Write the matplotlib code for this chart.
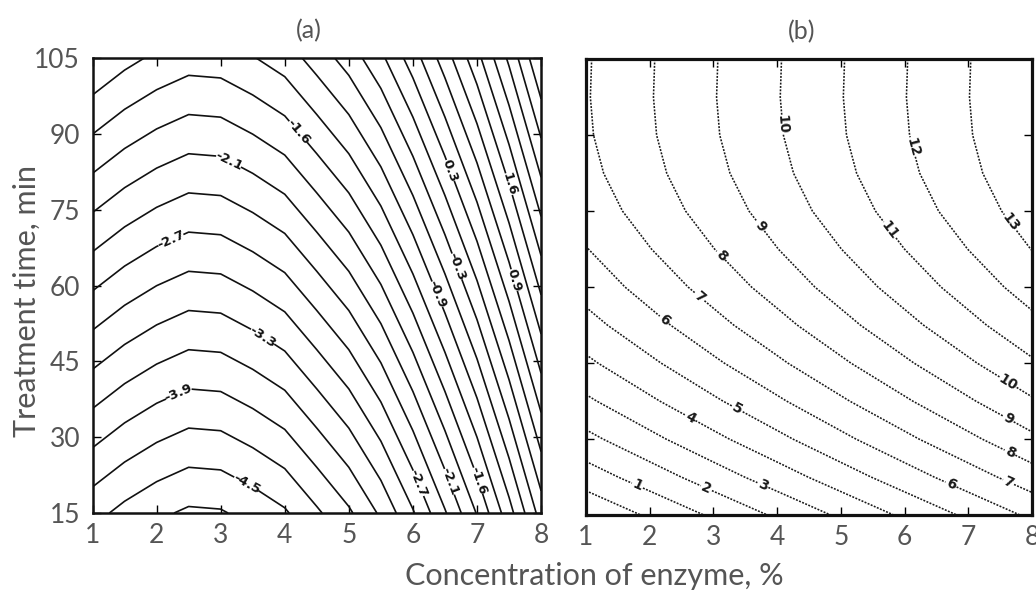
import numpy as np
import matplotlib
matplotlib.use("Agg")
import matplotlib.pyplot as plt

# ---------------- data ----------------
# Panel (a): response surface values
conc_a = [1.0, 1.5, 2.0, 2.5, 3.0, 3.5, 4.0, 4.5, 5.0, 5.5, 6.0, 6.5, 7.0, 7.5, 8.0]
time_a = [15, 30, 45, 60, 75, 90, 105]
z_a = [
    [-4.40, -4.59, -4.74, -4.85, -4.83, -4.70, -4.54, -4.25, -3.95, -3.55, -3.03, -2.43, -1.78, -1.02, -0.17],
    [-3.82, -4.01, -4.16, -4.27, -4.25, -4.12, -3.96, -3.67, -3.37, -2.97, -2.45, -1.85, -1.20, -0.44, 0.41],
    [-3.24, -3.43, -3.58, -3.69, -3.67, -3.54, -3.38, -3.09, -2.79, -2.39, -1.87, -1.27, -0.62, 0.14, 0.99],
    [-2.66, -2.85, -3.00, -3.11, -3.09, -2.96, -2.80, -2.51, -2.21, -1.81, -1.29, -0.69, -0.04, 0.72, 1.57],
    [-2.08, -2.27, -2.42, -2.53, -2.51, -2.38, -2.22, -1.93, -1.63, -1.23, -0.71, -0.11, 0.54, 1.30, 2.15],
    [-1.50, -1.69, -1.84, -1.95, -1.93, -1.80, -1.64, -1.35, -1.05, -0.65, -0.13, 0.47, 1.12, 1.88, 2.73],
    [-0.92, -1.11, -1.26, -1.37, -1.35, -1.22, -1.06, -0.77, -0.47, -0.07, 0.45, 1.05, 1.70, 2.46, 3.31],
]
plain_levels_a = [-4.8, -4.2, -3.6, -3.0, -2.4, -1.8, -1.2, -0.6, 0.0, 0.6, 1.2, 1.8, 2.1, 2.4, 2.7, 3.0, 3.3]
label_levels_a = [-4.5, -3.9, -3.3, -2.7, -2.1, -1.5, -0.9, -0.3, 0.3, 0.9, 1.5]
label_text_a = ["-4.5", "-3.9", "-3.3", "-2.7", "-2.1", "-1.6", "-0.9", "-0.3", "0.3", "0.9", "1.6"]

# Panel (b)
conc_b = [1, 2, 3, 4, 5, 6, 7, 8]
time_b = [15, 22.5, 30, 37.5, 45, 52.5, 60, 67.5, 75, 82.5, 90, 97.5, 105]
z_b = [
    [-0.87, 0.14, 1.15, 2.15, 3.16, 4.17, 5.18, 6.19],
    [0.49, 1.50, 2.51, 3.51, 4.52, 5.53, 6.54, 7.55],
    [1.73, 2.74, 3.75, 4.75, 5.76, 6.77, 7.78, 8.79],
    [2.83, 3.84, 4.85, 5.85, 6.86, 7.87, 8.88, 9.89],
    [3.81, 4.82, 5.83, 6.83, 7.84, 8.85, 9.86, 10.87],
    [4.66, 5.67, 6.68, 7.68, 8.69, 9.70, 10.71, 11.72],
    [5.38, 6.39, 7.40, 8.40, 9.41, 10.42, 11.43, 12.44],
    [5.96, 6.97, 7.98, 8.98, 9.99, 11.00, 12.01, 13.02],
    [6.42, 7.43, 8.44, 9.44, 10.45, 11.46, 12.47, 13.48],
    [6.72, 7.73, 8.74, 9.74, 10.75, 11.76, 12.77, 13.78],
    [6.88, 7.89, 8.90, 9.90, 10.91, 11.92, 12.93, 13.94],
    [6.93, 7.94, 8.95, 9.95, 10.96, 11.97, 12.98, 13.99],
    [6.91, 7.92, 8.93, 9.93, 10.94, 11.95, 12.96, 13.97],
]
plain_levels_b = [0]
label_levels_b = [1, 2, 3, 4, 5, 6, 7, 8, 9, 10, 11, 12, 13]

x_ticks = [1, 2, 3, 4, 5, 6, 7, 8]
y_ticks = [15, 30, 45, 60, 75, 90, 105]

# ---------------- layout (label placement spots) ----------------
label_pos_a = [(3.43, 21.5), (2.37, 38.0), (3.69, 50.6), (2.21, 69.4), (3.15, 85.3),
               (4.24, 90.8), (6.52, 82.5), (7.47, 80.0), (6.62, 63.5), (6.32, 58.0),
               (7.55, 61.0), (6.11, 21.0), (6.53, 21.0), (6.92, 21.0)]
label_pos_b = [(1.80, 20.6), (2.89, 20.3), (3.78, 21.0), (2.63, 34.1), (3.37, 35.8),
               (2.21, 53.2), (6.74, 21.3), (2.79, 58.1), (7.65, 22.0), (3.10, 66.0),
               (7.65, 27.2), (3.73, 71.9), (7.65, 34.4), (4.02, 92.0), (7.60, 40.7),
               (5.77, 71.3), (6.14, 87.7), (7.68, 72.9)]

plt.rcParams['font.family'] = ['Lato', 'DejaVu Sans']
text_color = '#555555'

fig = plt.figure(figsize=(10.36, 5.92), dpi=100)
ax_a = fig.add_axes([0.0893, 0.1334, 0.4330, 0.7680])
ax_b = fig.add_axes([0.5656, 0.1300, 0.4305, 0.7700])

za = np.array(z_a)
zb = np.array(z_b)

# panel a
ax_a.contour(conc_a, time_a, za, levels=plain_levels_a,
             colors='#111111', linewidths=1.2, linestyles='solid')
cs_a = ax_a.contour(conc_a, time_a, za, levels=label_levels_a,
                    colors='#111111', linewidths=1.2, linestyles='solid')
fmt_a = {lv: txt for lv, txt in zip(label_levels_a, label_text_a)}
lab_a = ax_a.clabel(cs_a, inline=True, inline_spacing=2, fontsize=9.5,
                    fmt=lambda v: fmt_a.get(round(float(v), 1), f"{v:.1f}"),
                    manual=label_pos_a)

# panel b
dot = [(0, (1.2, 0.9))]
ax_b.contour(conc_b, time_b, zb, levels=plain_levels_b,
             colors='#1a1a1a', linewidths=1.15, linestyles=dot)
cs_b = ax_b.contour(conc_b, time_b, zb, levels=label_levels_b,
                    colors='#1a1a1a', linewidths=1.15, linestyles=dot)
lab_b = ax_b.clabel(cs_b, inline=True, inline_spacing=2, fontsize=10,
                    fmt=lambda v: f"{int(round(float(v)))}", manual=label_pos_b)

for txt in list(lab_a) + list(lab_b):
    txt.set_fontweight('bold')
    txt.set_family(['DejaVu Sans'])

for ax, lw in ((ax_a, 1.8), (ax_b, 2.3)):
    ax.set_xlim(1, 8)
    ax.set_ylim(15, 105)
    ax.set_xticks(x_ticks)
    ax.set_yticks(y_ticks)
    ax.tick_params(direction='in', length=6, width=1.0, top=True, right=True,
                   labelsize=19, labelcolor=text_color, pad=7)
    for sp in ax.spines.values():
        sp.set_linewidth(lw)
        sp.set_color('#111111')

ax_b.set_yticklabels([])
ax_a.tick_params(axis='y', pad=9)

fig.text(0.298, 0.949, "(a)", ha='center', va='center', fontsize=18,
         color=text_color)
fig.text(0.774, 0.946, "(b)", ha='center', va='center', fontsize=18,
         color=text_color)
fig.text(0.574, 0.027, "Concentration of enzyme, %", ha='center', va='center',
         fontsize=22, color=text_color)
fig.text(0.026, 0.491, "Treatment time, min", ha='center', va='center',
         rotation=90, fontsize=22, color=text_color)

fig.savefig("out.png", dpi=100, facecolor='white')
